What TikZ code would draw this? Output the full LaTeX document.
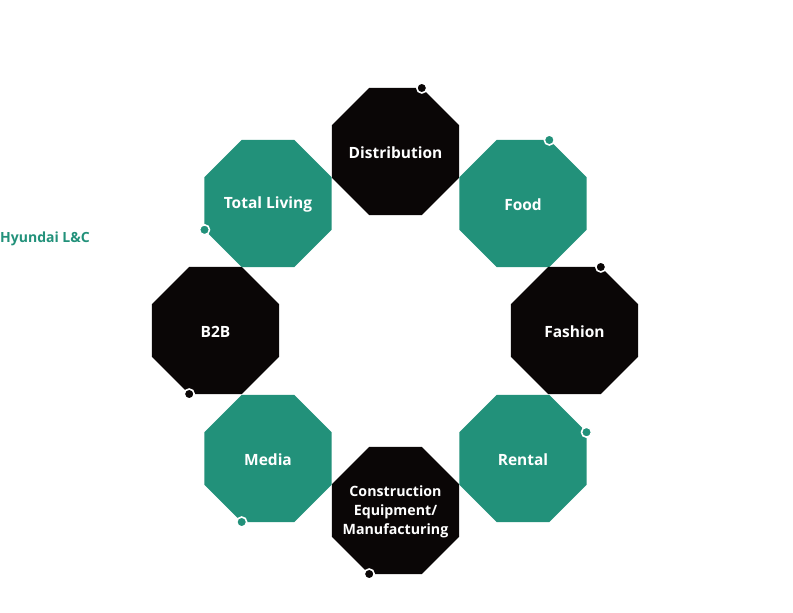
\documentclass[tikz,border=0pt]{standalone}
\usepackage{fontspec}
\setmainfont{Open Sans}
\usetikzlibrary{shapes.geometric,calc}
\definecolor{hgreen}{RGB}{34,145,122}
\definecolor{hblack}{RGB}{10,6,6}
\tikzset{
  octa/.style={regular polygon, regular polygon sides=8, minimum size=137.5pt, inner sep=0pt, draw=none},
  gocta/.style={octa, fill=hgreen},
  bocta/.style={octa, fill=hblack},
  lbl/.style={text=white, font=\fontsize{15.5}{19}\selectfont\bfseries, align=center},
  smlbl/.style={lbl, font=\fontsize{14.2}{19}\selectfont\bfseries},
  gdot/.style={circle, fill=hgreen, draw=white, line width=1.6pt, minimum size=10pt, inner sep=0pt},
  bdot/.style={circle, fill=hblack, draw=white, line width=1.6pt, minimum size=10pt, inner sep=0pt}
}
\begin{document}
\begin{tikzpicture}[x=1pt,y=1pt]
\useasboundingbox (0,0) rectangle (793,613);
\node[bocta] (dist) at (395.5,461.5) {};
\node[gocta] (food) at (523,409.5) {};
\node[bocta] (fash) at (574.5,282.5) {};
\node[gocta] (rent) at (523,154.5) {};
\node[bocta] (cons) at (395.5,102.5) {};
\node[gocta] (media) at (268,154.5) {};
\node[bocta] (b2b) at (215.5,282.5) {};
\node[gocta] (total) at (268,409.5) {};
\node[lbl] (tdist) at ($(dist)+(0,-1)$) {Distribution};
\node[lbl] (tfood) at ($(food)+(0,-1)$) {Food};
\node[lbl] (tfash) at ($(fash)+(0,-1)$) {Fashion};
\node[lbl] (trent) at ($(rent)+(0,-1)$) {Rental};
\node[smlbl] (tcons) at ($(cons)+(0,-1)$) {Construction\\Equipment/\\Manufacturing};
\node[lbl] (tmedia) at ($(media)+(0,-1)$) {Media};
\node[lbl] (tb2b) at ($(b2b)+(0,-1)$) {B2B};
\node[lbl] (ttotal) at ($(total)+(0,-1)$) {Total Living};
\node[bdot] (d1) at ($(dist)+(26.3,63.5)$) {};
\node[gdot] (d2) at ($(food)+(26.3,63.5)$) {};
\node[bdot] (d3) at ($(fash)+(26.3,63.5)$) {};
\node[gdot] (d4) at ($(rent)+(63.5,26.3)$) {};
\node[bdot] (d5) at ($(cons)+(-26.3,-63.5)$) {};
\node[gdot] (d6) at ($(media)+(-26.3,-63.5)$) {};
\node[bdot] (d7) at ($(b2b)+(-26.3,-63.5)$) {};
\node[gdot] (d8) at ($(total)+(-63.5,-26.3)$) {};
\node[anchor=west, inner sep=0pt, text=hgreen, font=\fontsize{14}{16}\selectfont\bfseries] (brand) at (0,374) {Hyundai L\&C};
\end{tikzpicture}
\end{document}
